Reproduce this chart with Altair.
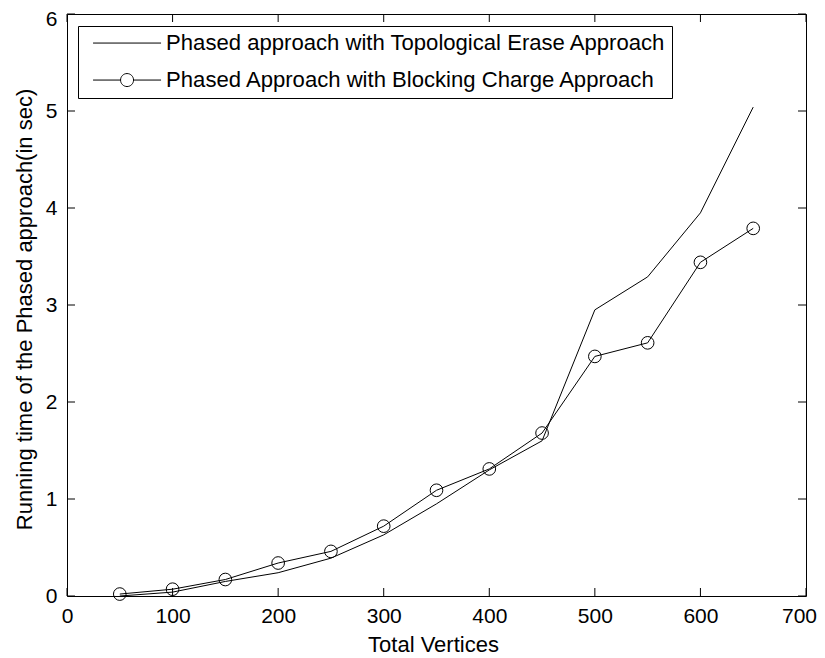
import altair as alt
import pandas as pd

# ---- data ----
vertices = [50, 100, 150, 200, 250, 300, 350, 400, 450, 500, 550, 600, 650]
topological = [0.00, 0.04, 0.15, 0.24, 0.39, 0.63, 0.95, 1.30, 1.60, 2.95, 3.29, 3.95, 5.04]
blocking = [0.02, 0.07, 0.17, 0.34, 0.46, 0.72, 1.09, 1.31, 1.68, 2.47, 2.61, 3.44, 3.79]
series_names = [
    "Phased approach with Topological Erase Approach",
    "Phased Approach with Blocking Charge Approach",
]
x_ticks = [0, 100, 200, 300, 400, 500, 600, 700]
y_ticks = [0, 1, 2, 3, 4, 5, 6]

W, H = 739, 582
FONT = "Liberation Sans"

rows = []
for v, t, b in zip(vertices, topological, blocking):
    rows.append({"x": v, "y": t, "series": series_names[0]})
    rows.append({"x": v, "y": b, "series": series_names[1]})
df = pd.DataFrame(rows)
df_block = df[df["series"] == series_names[1]]

xscale = alt.Scale(domain=[0, 700], nice=False, zero=False)
yscale = alt.Scale(domain=[0, 6], nice=False, zero=False)

x_axis = alt.Axis(
    values=x_ticks, format="d", grid=False, domain=False, ticks=False, tickSize=0,
    labelFont=FONT, labelFontSize=21, labelColor="black",
    labelBaseline="alphabetic", labelPadding=26, labelFlush=False,
    labelOffset={"condition": {"test": "datum.value === 700", "value": -7}, "value": 0},
    title="Total Vertices", titleFont=FONT, titleFontSize=22,
    titleFontWeight="normal", titleColor="black",
    titleBaseline="alphabetic", titleY=55, titleX=366, titleAlign="center",
)
y_axis = alt.Axis(
    values=y_ticks, format="d", grid=False, domain=False, ticks=False, tickSize=0,
    labelFont=FONT, labelFontSize=21, labelColor="black",
    labelPadding=10, labelBaseline="middle", labelFlush=False,
    labelOffset={"condition": {"test": "datum.value === 6", "value": 5}, "value": 0},
    title="Running time of the Phased approach(in sec)",
    titleFont=FONT, titleFontSize=22, titleFontWeight="normal", titleColor="black",
    titleAngle=270, titleBaseline="alphabetic", titleAlign="center",
    titleX=-36, titleY=295,
)

lines = alt.Chart(df).mark_line(color="black", strokeWidth=1).encode(
    x=alt.X("x:Q", scale=xscale, axis=x_axis),
    y=alt.Y("y:Q", scale=yscale, axis=y_axis),
    detail="series:N",
)

points = alt.Chart(df_block).mark_point(
    shape="circle", size=160, color="black", filled=False, strokeWidth=1, opacity=1
).encode(
    x=alt.X("x:Q", scale=xscale),
    y=alt.Y("y:Q", scale=yscale),
)

# legend glyphs (unit = 10 px); a zero-length piece on the left widens the inner margin
line_path = "M-4.2,0 h0 M-3.4,0 H3.4"
circle_path = ("M-4.2,0 h0 M-3.4,0 H-0.65 M0.65,0 A0.65,0.65 0 1,1 -0.65,0 "
               "A0.65,0.65 0 1,1 0.65,0 H3.4")

legend_layer = alt.Chart(df).transform_filter("false").mark_point(
    color="black", filled=False
).encode(
    x=alt.X("x:Q", scale=xscale),
    y=alt.Y("y:Q", scale=yscale),
    shape=alt.Shape(
        "series:N",
        scale=alt.Scale(domain=series_names, range=[line_path, circle_path]),
        sort=series_names,
        legend=alt.Legend(
            title=None, orient="none", legendX=11, legendY=12,
            strokeColor="black", fillColor="white", padding=6,
            symbolSize=400, symbolStrokeColor="black", symbolFillColor="transparent",
            symbolStrokeWidth=1, symbolOpacity=1, symbolOffset=32,
            labelFont=FONT, labelFontSize=22.1, labelColor="black",
            labelLimit=0, labelOffset=28, rowPadding=14,
        ),
    ),
)

tdf_x = pd.DataFrame({"t": x_ticks})
tdf_y = pd.DataFrame({"t": y_ticks})
TL = 8
ticks_bottom = alt.Chart(tdf_x).mark_rule(color="black", strokeWidth=1).encode(
    x=alt.X("t:Q", scale=xscale), y=alt.value(H), y2=alt.value(H - TL))
ticks_top = alt.Chart(tdf_x).mark_rule(color="black", strokeWidth=1).encode(
    x=alt.X("t:Q", scale=xscale), y=alt.value(0), y2=alt.value(TL))
ticks_left = alt.Chart(tdf_y).mark_rule(color="black", strokeWidth=1).encode(
    y=alt.Y("t:Q", scale=yscale), x=alt.value(0), x2=alt.value(TL))
ticks_right = alt.Chart(tdf_y).mark_rule(color="black", strokeWidth=1).encode(
    y=alt.Y("t:Q", scale=yscale), x=alt.value(W), x2=alt.value(W - TL))

chart = alt.layer(
    ticks_bottom, ticks_top, ticks_left, ticks_right, lines, points, legend_layer
).properties(
    width=W, height=H,
    autosize=alt.AutoSizeParams(type="none"),
    padding={"left": 59, "top": 6, "right": 11, "bottom": 60},
    background="white",
).configure_view(stroke="black", strokeWidth=1)

chart.save("out.html", embed_options={"renderer": "svg", "actions": False})
